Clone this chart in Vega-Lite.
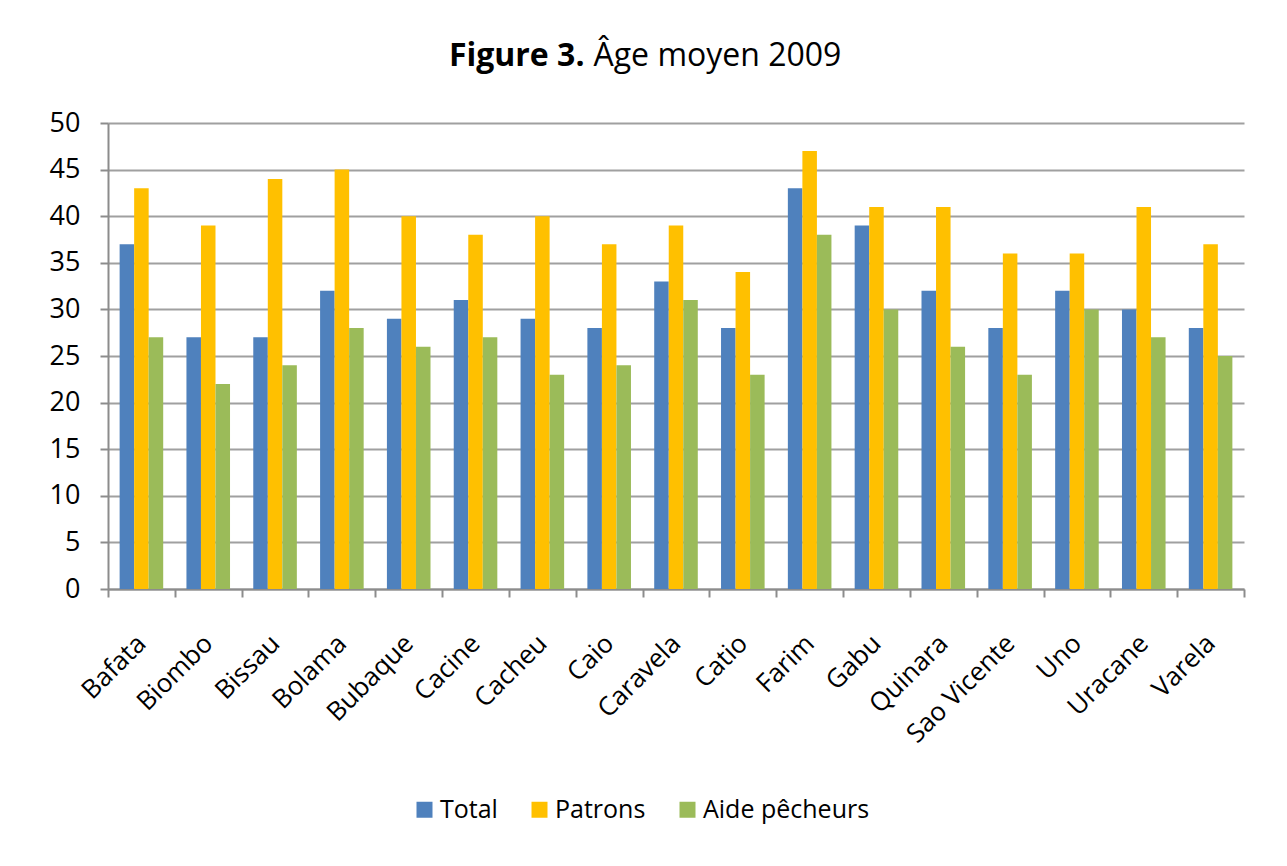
{
  "$schema": "https://vega.github.io/schema/vega-lite/v6.json",
  "width": 1136,
  "height": 466,
  "autosize": {"type": "none"},
  "padding": {"left": 108, "top": 123, "right": 43, "bottom": 277},
  "background": "white",
  "config": {
    "font": "Open Sans",
    "view": {"stroke": null},
    "axis": {"labelColor": "black", "domainColor": "#8c8c8c", "domainWidth": 2, "tickColor": "#8c8c8c", "tickWidth": 2, "gridColor": "#a0a0a0", "gridWidth": 2}
  },
  "data": {
    "values": [
      {"site": "Bafata", "groupe": "Total", "age": 37},
      {"site": "Bafata", "groupe": "Patrons", "age": 43},
      {"site": "Bafata", "groupe": "Aide pêcheurs", "age": 27},
      {"site": "Biombo", "groupe": "Total", "age": 27},
      {"site": "Biombo", "groupe": "Patrons", "age": 39},
      {"site": "Biombo", "groupe": "Aide pêcheurs", "age": 22},
      {"site": "Bissau", "groupe": "Total", "age": 27},
      {"site": "Bissau", "groupe": "Patrons", "age": 44},
      {"site": "Bissau", "groupe": "Aide pêcheurs", "age": 24},
      {"site": "Bolama", "groupe": "Total", "age": 32},
      {"site": "Bolama", "groupe": "Patrons", "age": 45},
      {"site": "Bolama", "groupe": "Aide pêcheurs", "age": 28},
      {"site": "Bubaque", "groupe": "Total", "age": 29},
      {"site": "Bubaque", "groupe": "Patrons", "age": 40},
      {"site": "Bubaque", "groupe": "Aide pêcheurs", "age": 26},
      {"site": "Cacine", "groupe": "Total", "age": 31},
      {"site": "Cacine", "groupe": "Patrons", "age": 38},
      {"site": "Cacine", "groupe": "Aide pêcheurs", "age": 27},
      {"site": "Cacheu", "groupe": "Total", "age": 29},
      {"site": "Cacheu", "groupe": "Patrons", "age": 40},
      {"site": "Cacheu", "groupe": "Aide pêcheurs", "age": 23},
      {"site": "Caio", "groupe": "Total", "age": 28},
      {"site": "Caio", "groupe": "Patrons", "age": 37},
      {"site": "Caio", "groupe": "Aide pêcheurs", "age": 24},
      {"site": "Caravela", "groupe": "Total", "age": 33},
      {"site": "Caravela", "groupe": "Patrons", "age": 39},
      {"site": "Caravela", "groupe": "Aide pêcheurs", "age": 31},
      {"site": "Catio", "groupe": "Total", "age": 28},
      {"site": "Catio", "groupe": "Patrons", "age": 34},
      {"site": "Catio", "groupe": "Aide pêcheurs", "age": 23},
      {"site": "Farim", "groupe": "Total", "age": 43},
      {"site": "Farim", "groupe": "Patrons", "age": 47},
      {"site": "Farim", "groupe": "Aide pêcheurs", "age": 38},
      {"site": "Gabu", "groupe": "Total", "age": 39},
      {"site": "Gabu", "groupe": "Patrons", "age": 41},
      {"site": "Gabu", "groupe": "Aide pêcheurs", "age": 30},
      {"site": "Quinara", "groupe": "Total", "age": 32},
      {"site": "Quinara", "groupe": "Patrons", "age": 41},
      {"site": "Quinara", "groupe": "Aide pêcheurs", "age": 26},
      {"site": "Sao Vicente", "groupe": "Total", "age": 28},
      {"site": "Sao Vicente", "groupe": "Patrons", "age": 36},
      {"site": "Sao Vicente", "groupe": "Aide pêcheurs", "age": 23},
      {"site": "Uno", "groupe": "Total", "age": 32},
      {"site": "Uno", "groupe": "Patrons", "age": 36},
      {"site": "Uno", "groupe": "Aide pêcheurs", "age": 30},
      {"site": "Uracane", "groupe": "Total", "age": 30},
      {"site": "Uracane", "groupe": "Patrons", "age": 41},
      {"site": "Uracane", "groupe": "Aide pêcheurs", "age": 27},
      {"site": "Varela", "groupe": "Total", "age": 28},
      {"site": "Varela", "groupe": "Patrons", "age": 37},
      {"site": "Varela", "groupe": "Aide pêcheurs", "age": 25}
    ]
  },
  "mark": {"type": "bar"},
  "encoding": {
    "x": {
      "field": "site",
      "type": "nominal",
      "sort": null,
      "scale": {"paddingInner": 0, "paddingOuter": 0},
      "axis": {
        "title": "Figure 3.",
        "titleFontSize": 32,
        "titleFontWeight": "bold",
        "titleColor": "black",
        "titleAngle": 0,
        "titleAlign": "right",
        "titleBaseline": "alphabetic",
        "titleX": 476,
        "titleY": -524,
        "labelAngle": -45,
        "labelAlign": "right",
        "labelBaseline": "middle",
        "labelFontSize": 26,
        "labelPadding": 42,
        "tickBand": "extent",
        "tickSize": 8,
        "grid": false
      }
    },
    "xOffset": {
      "field": "groupe",
      "type": "nominal",
      "sort": ["Total", "Patrons", "Aide pêcheurs"],
      "scale": {"paddingInner": 0, "paddingOuter": 0.8}
    },
    "y": {
      "field": "age",
      "type": "quantitative",
      "scale": {"domain": [0, 50]},
      "axis": {
        "title": "Âge moyen 2009",
        "titleFontSize": 32,
        "titleFontWeight": "normal",
        "titleColor": "black",
        "titleAngle": 0,
        "titleAlign": "left",
        "titleBaseline": "alphabetic",
        "titleX": 485,
        "titleY": -58,
        "values": [0, 5, 10, 15, 20, 25, 30, 35, 40, 45, 50],
        "labelFontSize": 27,
        "labelPadding": 20,
        "tickSize": 8,
        "grid": true
      }
    },
    "color": {
      "field": "groupe",
      "type": "nominal",
      "sort": ["Total", "Patrons", "Aide pêcheurs"],
      "scale": {"domain": ["Total", "Patrons", "Aide pêcheurs"], "range": ["#4f81bd", "#ffc000", "#9bbb59"]},
      "legend": {
        "title": null,
        "orient": "none",
        "legendX": 304,
        "legendY": 674,
        "direction": "horizontal",
        "symbolType": "square",
        "symbolSize": 256,
        "symbolStrokeWidth": 0,
        "labelFontSize": 25,
        "labelColor": "black",
        "labelLimit": 400,
        "labelOffset": 3,
        "columnPadding": 29
      }
    }
  }
}
